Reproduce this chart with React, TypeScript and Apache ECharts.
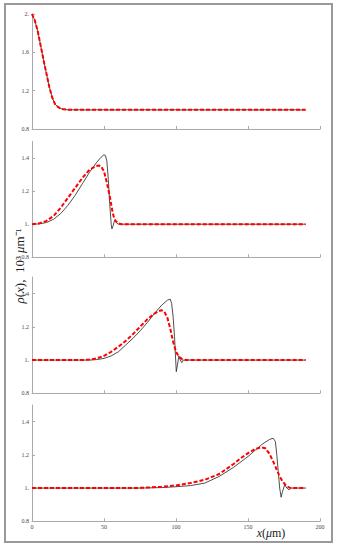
import React, { useEffect, useRef } from "react";
import * as echarts from "echarts";

const X_TICKS = [0, 50, 100, 150, 200];
const Y1_TICKS = [0.8, 1.2, 1.6, 2.0];
const Y_TICKS = [0.8, 1.0, 1.2, 1.4];

// Panel 1 (both curves coincide)
const P1_X = [0, 2, 4, 6, 8, 10, 12, 14, 16, 18, 20, 22, 25, 190];
const P1_Y = [2.0, 1.93, 1.82, 1.67, 1.52, 1.38, 1.24, 1.13, 1.06, 1.03, 1.012, 1.005, 1.0, 1.0];

// Panel 2
const P2B_X = [0, 5, 10, 15, 20, 25, 30, 35, 40, 45, 48, 50, 51, 52, 53, 54, 55, 55.5, 56.3, 57.3, 58.5, 60, 190];
const P2B_Y = [1.0, 1.002, 1.01, 1.03, 1.065, 1.115, 1.175, 1.245, 1.315, 1.375, 1.405, 1.42, 1.415, 1.38, 1.27, 1.12, 1.0, 0.972, 0.99, 1.022, 1.01, 1.0, 1.0];
const P2R_X = [0, 5, 10, 15, 20, 25, 30, 35, 40, 44, 46.5, 48, 50, 52, 54, 55, 56, 57, 58, 60, 62, 190];
const P2R_Y = [1.0, 1.005, 1.02, 1.05, 1.1, 1.16, 1.22, 1.28, 1.33, 1.35, 1.355, 1.35, 1.32, 1.25, 1.17, 1.12, 1.07, 1.04, 1.02, 1.005, 1.0, 1.0];

// Panel 3
const P3B_X = [0, 40, 45, 50, 55, 60, 65, 70, 75, 80, 85, 90, 94, 96, 97, 98, 99, 99.6, 100.2, 101, 102, 103, 104, 105, 190];
const P3B_Y = [1.0, 1.0, 1.003, 1.01, 1.025, 1.05, 1.09, 1.13, 1.175, 1.225, 1.28, 1.33, 1.36, 1.367, 1.34, 1.26, 1.14, 1.03, 0.93, 0.97, 1.025, 1.0, 0.985, 1.0, 1.0];
const P3R_X = [0, 35, 40, 45, 50, 55, 60, 65, 70, 75, 80, 85, 88, 90, 92, 94, 96, 98, 100, 102, 104, 107, 190];
const P3R_Y = [1.0, 1.0, 1.003, 1.01, 1.025, 1.05, 1.08, 1.115, 1.155, 1.2, 1.245, 1.28, 1.295, 1.3, 1.29, 1.255, 1.19, 1.11, 1.05, 1.02, 1.007, 1.0, 1.0];

// Panel 4
const P4B_X = [0, 75, 90, 100, 110, 120, 130, 140, 150, 155, 160, 165, 167.5, 169, 170, 171, 172, 173, 174, 175.5, 177, 178.5, 180, 190];
const P4B_Y = [1.0, 1.0, 1.003, 1.008, 1.015, 1.03, 1.07, 1.125, 1.19, 1.228, 1.265, 1.293, 1.3, 1.28, 1.2, 1.1, 1.0, 0.945, 0.98, 1.02, 1.0, 0.99, 1.0, 1.0];
const P4R_X = [0, 70, 80, 90, 100, 110, 120, 130, 140, 145, 150, 155, 159, 162, 165, 168, 170, 172, 174, 176, 178, 180, 190];
const P4R_Y = [1.0, 1.0, 1.003, 1.008, 1.016, 1.03, 1.05, 1.085, 1.145, 1.18, 1.21, 1.235, 1.245, 1.24, 1.205, 1.15, 1.11, 1.07, 1.04, 1.02, 1.006, 1.0, 1.0];

const zip = (xs: number[], ys: number[]) => xs.map((x, i) => [x, ys[i]]);

export default function App() {
  const ref = useRef<HTMLDivElement>(null);
  useEffect(() => {
    document.body.style.margin = "0";
    const chart = echarts.init(ref.current!, null, { renderer: "svg" });
    const grids = [
      { left: 32, top: 14, width: 288, height: 115 },
      { left: 32, top: 141.5, width: 288, height: 115.8 },
      { left: 32, top: 277, width: 288, height: 116.3 },
      { left: 32, top: 405, width: 288, height: 116.3 },
    ];
    const yCfg: [number, number, number[]][] = [
      [0.8, 2.0, Y1_TICKS],
      [0.8, 1.5, Y_TICKS],
      [0.8, 1.5, Y_TICKS],
      [0.8, 1.5, Y_TICKS],
    ];
    const panels = [
      [zip(P1_X, P1_Y), zip(P1_X, P1_Y)],
      [zip(P2B_X, P2B_Y), zip(P2R_X, P2R_Y)],
      [zip(P3B_X, P3B_Y), zip(P3R_X, P3R_Y)],
      [zip(P4B_X, P4B_Y), zip(P4R_X, P4R_Y)],
    ];
    const fmt = (v: number) => (Number.isInteger(v) ? v.toFixed(0) + "." : String(v));
    const axisColor = "#aaaaaa";
    const labelStyle = { fontSize: 6, fontFamily: "Liberation Serif", color: "#444" };
    const series: any[] = [];
    panels.forEach((p, i) => {
      series.push({
        type: "line", xAxisIndex: i, yAxisIndex: i, data: p[0], showSymbol: false, symbol: "none",
        lineStyle: { color: "#222", width: 0.8 }, z: 2,
      });
      series.push({
        type: "line", xAxisIndex: i, yAxisIndex: i, data: p[1], showSymbol: false, symbol: "none",
        lineStyle: { color: "#ff0000", width: 2, type: [4, 2] }, z: 3,
      });
    });
    chart.setOption({
      animation: false,
      backgroundColor: "#ffffff",
      grid: grids,
      xAxis: grids.map((_, i) => ({
        type: "value", gridIndex: i, min: 0, max: 200, interval: 50,
        axisLine: { show: true, onZero: false, lineStyle: { color: axisColor, width: 1 } },
        axisTick: { show: true, inside: true, length: 3, customValues: X_TICKS, lineStyle: { color: axisColor } },
        axisLabel: { show: i === 3, customValues: X_TICKS, margin: 3, ...labelStyle },
        splitLine: { show: false },
      })),
      yAxis: grids.map((_, i) => ({
        type: "value", gridIndex: i, min: yCfg[i][0], max: yCfg[i][1],
        axisLine: { show: true, onZero: false, lineStyle: { color: axisColor, width: 1 } },
        axisTick: { show: true, inside: true, length: 3, customValues: yCfg[i][2], lineStyle: { color: axisColor } },
        axisLabel: { show: true, customValues: yCfg[i][2], formatter: fmt, margin: 3, ...labelStyle },
        splitLine: { show: false },
      })),
      series,
      graphic: [
        {
          type: "rect", shape: { x: 5, y: 4, width: 327, height: 538 },
          style: { fill: "none", stroke: "#999", lineWidth: 2 }, silent: true,
        },
        {
          type: "text", x: 19, y: 266, rotation: Math.PI / 2,
          style: {
            text: "{i|ρ}({i|x}),  10³ {i|μ}m⁻¹",
            fontSize: 13, fontFamily: "Liberation Serif", fill: "#222",
            align: "center", verticalAlign: "middle",
            rich: { i: { fontStyle: "italic", fontSize: 13, fontFamily: "Liberation Serif", fill: "#222" } },
          },
        },
        {
          type: "text", x: 271, y: 533,
          style: {
            text: "{i|x}({i|μ}m)",
            fontSize: 12, fontFamily: "Liberation Serif", fill: "#222",
            align: "center", verticalAlign: "middle",
            rich: { i: { fontStyle: "italic", fontSize: 12, fontFamily: "Liberation Serif", fill: "#222" } },
          },
        },
      ],
    });
    return () => chart.dispose();
  }, []);
  return <div ref={ref} style={{ width: 338, height: 547 }} />;
}
